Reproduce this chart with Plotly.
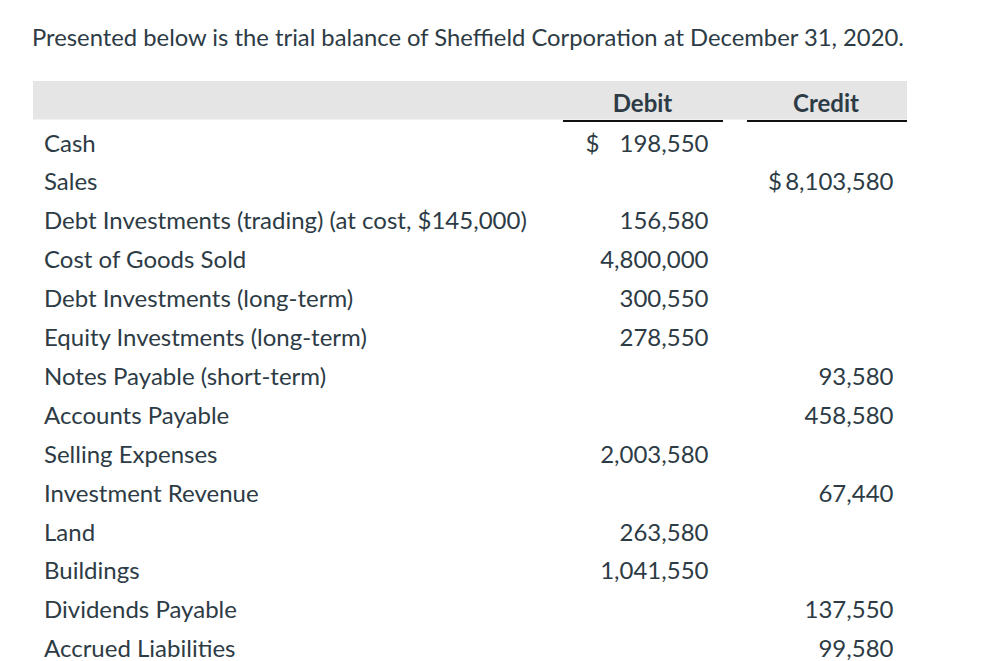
import plotly.graph_objects as go

title = "Presented below is the trial balance of Sheffield Corporation at December 31, 2020."
headers = ["Debit", "Credit"]
accounts = [
    "Cash",
    "Sales",
    "Debt Investments (trading) (at cost, $145,000)",
    "Cost of Goods Sold",
    "Debt Investments (long-term)",
    "Equity Investments (long-term)",
    "Notes Payable (short-term)",
    "Accounts Payable",
    "Selling Expenses",
    "Investment Revenue",
    "Land",
    "Buildings",
    "Dividends Payable",
    "Accrued Liabilities",
]
debit = [198550, None, 156580, 4800000, 300550, 278550, None, None, 2003580, None, 263580, 1041550, None, None]
credit = [None, 8103580, None, None, None, None, 93580, 458580, None, 67440, None, None, 137550, 99580]

TXT = "#2d3b45"
FONT = "Lato"
W, H = 999, 661
OFF = 8          # page body margin
ROW0, ROWH = 143, 38.9
DY = 2.5         # text anchor vs. visual cap centre
FS = 24

def fmt(v):
    return "" if v is None else f"{v:,}"

rows = list(range(len(accounts)))
ys = [ROW0 + ROWH * i + DY for i in rows]

fig = go.Figure()
fig.add_trace(go.Scatter(x=[44] * len(rows), y=ys, text=accounts, mode="text",
                         textposition="middle right",
                         textfont=dict(family=FONT, size=FS, color=TXT), hoverinfo="skip"))
fig.add_trace(go.Scatter(x=[708.5] * len(rows), y=ys, text=[fmt(v) for v in debit], mode="text",
                         textposition="middle left",
                         textfont=dict(family=FONT, size=FS, color=TXT), hoverinfo="skip"))
fig.add_trace(go.Scatter(x=[893.5] * len(rows), y=ys, text=[fmt(v) for v in credit], mode="text",
                         textposition="middle left",
                         textfont=dict(family=FONT, size=FS, color=TXT), hoverinfo="skip"))
# dollar signs on the first entry of each column
first_d = next(i for i, v in enumerate(debit) if v is not None)
first_c = next(i for i, v in enumerate(credit) if v is not None)
fig.add_trace(go.Scatter(x=[585.5, 768], y=[ys[first_d], ys[first_c]], text=["$", "$"], mode="text",
                         textposition="middle right",
                         textfont=dict(family=FONT, size=FS, color=TXT), hoverinfo="skip"))
# column headers
fig.add_trace(go.Scatter(x=[642.5, 826], y=[103 + DY, 103 + DY], text=headers, mode="text",
                         textposition="middle center",
                         textfont=dict(family=FONT, size=FS, color=TXT, weight="bold"), hoverinfo="skip"))
# title
fig.add_trace(go.Scatter(x=[32], y=[38 + DY], text=[title], mode="text",
                         textposition="middle right",
                         textfont=dict(family=FONT, size=23.8, color=TXT), hoverinfo="skip"))

shapes = [
    dict(type="rect", x0=33, x1=907, y0=81, y1=119.5, fillcolor="#e5e5e5", line_width=0, layer="below"),
    dict(type="line", x0=563, x1=723, y0=121, y1=121, line=dict(color="#111", width=1.8)),
    dict(type="line", x0=747, x1=907, y0=121, y1=121, line=dict(color="#111", width=1.8)),
]

fig.update_layout(
    width=W - OFF, height=H - OFF, margin=dict(l=0, r=0, t=0, b=0),
    paper_bgcolor="white", plot_bgcolor="white", showlegend=False,
    xaxis=dict(range=[OFF, W], visible=False, fixedrange=True),
    yaxis=dict(range=[H, OFF], visible=False, fixedrange=True),
    shapes=shapes,
)
fig.write_html("out.html")
